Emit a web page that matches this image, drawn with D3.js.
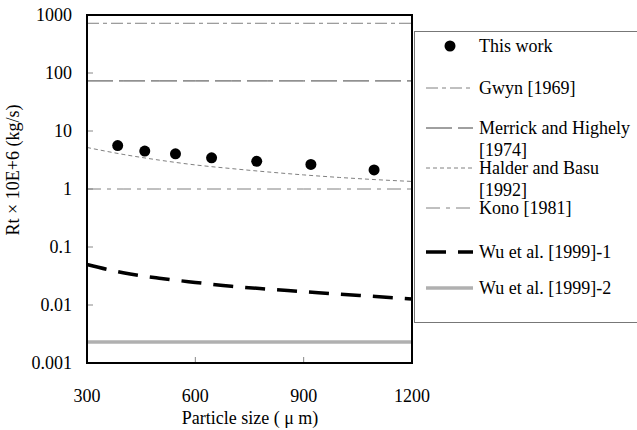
<!DOCTYPE html>
<html>
<head>
<meta charset="utf-8">
<title>Rt vs particle size</title>
<script src="https://d3js.org/d3.v7.min.js"></script>
<style>
body { margin: 0; background: #fff; }
</style>
</head>
<body>
<script>
// data
var sizes = [300, 400, 500, 600, 700, 800, 900, 1000, 1100, 1200];
var workX = [385, 460, 545, 645, 770, 920, 1095];
var workY = [5.6, 4.5, 4.05, 3.45, 3.0, 2.65, 2.13];
var gwyn = [720, 720, 720, 720, 720, 720, 720, 720, 720, 720];
var merrick = [73, 73, 73, 73, 73, 73, 73, 73, 73, 73];
var halder = [5.2, 3.95, 3.15, 2.6, 2.25, 1.97, 1.75, 1.58, 1.45, 1.35];
var kono = [1, 1, 1, 1, 1, 1, 1, 1, 1, 1];
var wu1 = [0.05, 0.036, 0.029, 0.0245, 0.021, 0.0188, 0.017, 0.0153, 0.014, 0.0127];
var wu2 = [0.0023, 0.0023, 0.0023, 0.0023, 0.0023, 0.0023, 0.0023, 0.0023, 0.0023, 0.0023];
var xTicks = [300, 600, 900, 1200];
var yTicks = [0.001, 0.01, 0.1, 1, 10, 100, 1000];
var yTickLabels = ["0.001", "0.01", "0.1", "1", "10", "100", "1000"];

var width = 637, height = 430;
var pLeft = 87, pRight = 412, pTop = 15, pBottom = 363;
var fs = 18;

var svg = d3.select("body").append("svg")
    .attr("width", width)
    .attr("height", height);

var x = d3.scaleLinear().domain([300, 1200]).range([pLeft, pRight]);
var y = d3.scaleLog().domain([0.001, 1000]).range([pBottom, pTop]);

var series = [
    {name: ["Gwyn [1969]"], values: gwyn, color: "#808080", width: 1, dash: "12,4,4,4"},
    {name: ["Merrick and Highely", "[1974]"], values: merrick, color: "#404040", width: 1, dash: "26,6"},
    {name: ["Halder and Basu", "[1992]"], values: halder, color: "#808080", width: 1, dash: "4,3"},
    {name: ["Kono [1981]"], values: kono, color: "#808080", width: 1, dash: "14,6,4,6"},
    {name: ["Wu et al. [1999]-1"], values: wu1, color: "#000", width: 3.5, dash: "20,12"},
    {name: ["Wu et al. [1999]-2"], values: wu2, color: "#b0b0b0", width: 3.5, dash: null}
];

// ticks inside the frame
svg.append("g").selectAll("line")
    .data(yTicks)
    .enter().append("line")
    .attr("x1", pLeft).attr("x2", pLeft + 6)
    .attr("y1", function(d) { return y(d); })
    .attr("y2", function(d) { return y(d); })
    .attr("stroke", "#888");
svg.append("g").selectAll("line")
    .data(xTicks.slice(1, 3))
    .enter().append("line")
    .attr("x1", function(d) { return x(d); })
    .attr("x2", function(d) { return x(d); })
    .attr("y1", pBottom).attr("y2", pBottom - 6)
    .attr("stroke", "#888");

var line = d3.line()
    .x(function(d) { return x(d[0]); })
    .y(function(d) { return y(d[1]); })
    .curve(d3.curveMonotoneX);

svg.append("g").selectAll("path")
    .data(series)
    .enter().append("path")
    .attr("d", function(s) { return line(sizes.map(function(v, i) { return [v, s.values[i]]; })); })
    .attr("fill", "none")
    .attr("stroke", function(s) { return s.color; })
    .attr("stroke-width", function(s) { return s.width; })
    .attr("stroke-dasharray", function(s) { return s.dash; });

svg.append("g").selectAll("circle")
    .data(workX.map(function(v, i) { return [v, workY[i]]; }))
    .enter().append("circle")
    .attr("cx", function(d) { return x(d[0]); })
    .attr("cy", function(d) { return y(d[1]); })
    .attr("r", 5.5)
    .attr("fill", "#000");

svg.append("rect")
    .attr("x", pLeft).attr("y", pTop)
    .attr("width", pRight - pLeft).attr("height", pBottom - pTop)
    .attr("fill", "none")
    .attr("stroke", "#000")
    .attr("stroke-width", 2);

// tick labels
svg.append("g").selectAll("text")
    .data(yTicks)
    .enter().append("text")
    .attr("x", 72)
    .attr("y", function(d) { return y(d) + 6; })
    .attr("text-anchor", "end")
    .text(function(d, i) { return yTickLabels[i]; });
svg.append("g").selectAll("text")
    .data(xTicks)
    .enter().append("text")
    .attr("x", function(d) { return x(d); })
    .attr("y", 402)
    .attr("text-anchor", "middle")
    .text(function(d) { return d; });

svg.append("text")
    .attr("x", 250).attr("y", 424)
    .attr("text-anchor", "middle")
    .text("Particle size ( \u03bc m)");
svg.append("text")
    .attr("transform", "translate(19,170) rotate(-90)")
    .attr("text-anchor", "middle")
    .text("Rt \u00d7 10E+6 (kg/s)");

// legend
var lg = svg.append("g");
lg.append("rect")
    .attr("x", 414.5).attr("y", 31.5)
    .attr("width", 240).attr("height", 291)
    .attr("fill", "#fff")
    .attr("stroke", "#777");
lg.append("circle")
    .attr("cx", 450).attr("cy", 46)
    .attr("r", 5.5).attr("fill", "#000");
lg.append("text")
    .attr("x", 479).attr("y", 52)
    .text("This work");
var rowY = [88, 128, 168, 208, 252, 288];
series.forEach(function(s, i) {
    lg.append("line")
        .attr("x1", 426).attr("x2", 473)
        .attr("y1", rowY[i]).attr("y2", rowY[i])
        .attr("stroke", s.color)
        .attr("stroke-width", s.width)
        .attr("stroke-dasharray", s.dash ? s.dash : null);
    s.name.forEach(function(t, j) {
        lg.append("text")
            .attr("x", 479).attr("y", rowY[i] + 6 + j * 22)
            .text(t);
    });
});

svg.selectAll("text")
    .style("font-family", "'Liberation Serif'")
    .style("font-size", fs + "px")
    .attr("fill", "#000");
</script>
</body>
</html>
